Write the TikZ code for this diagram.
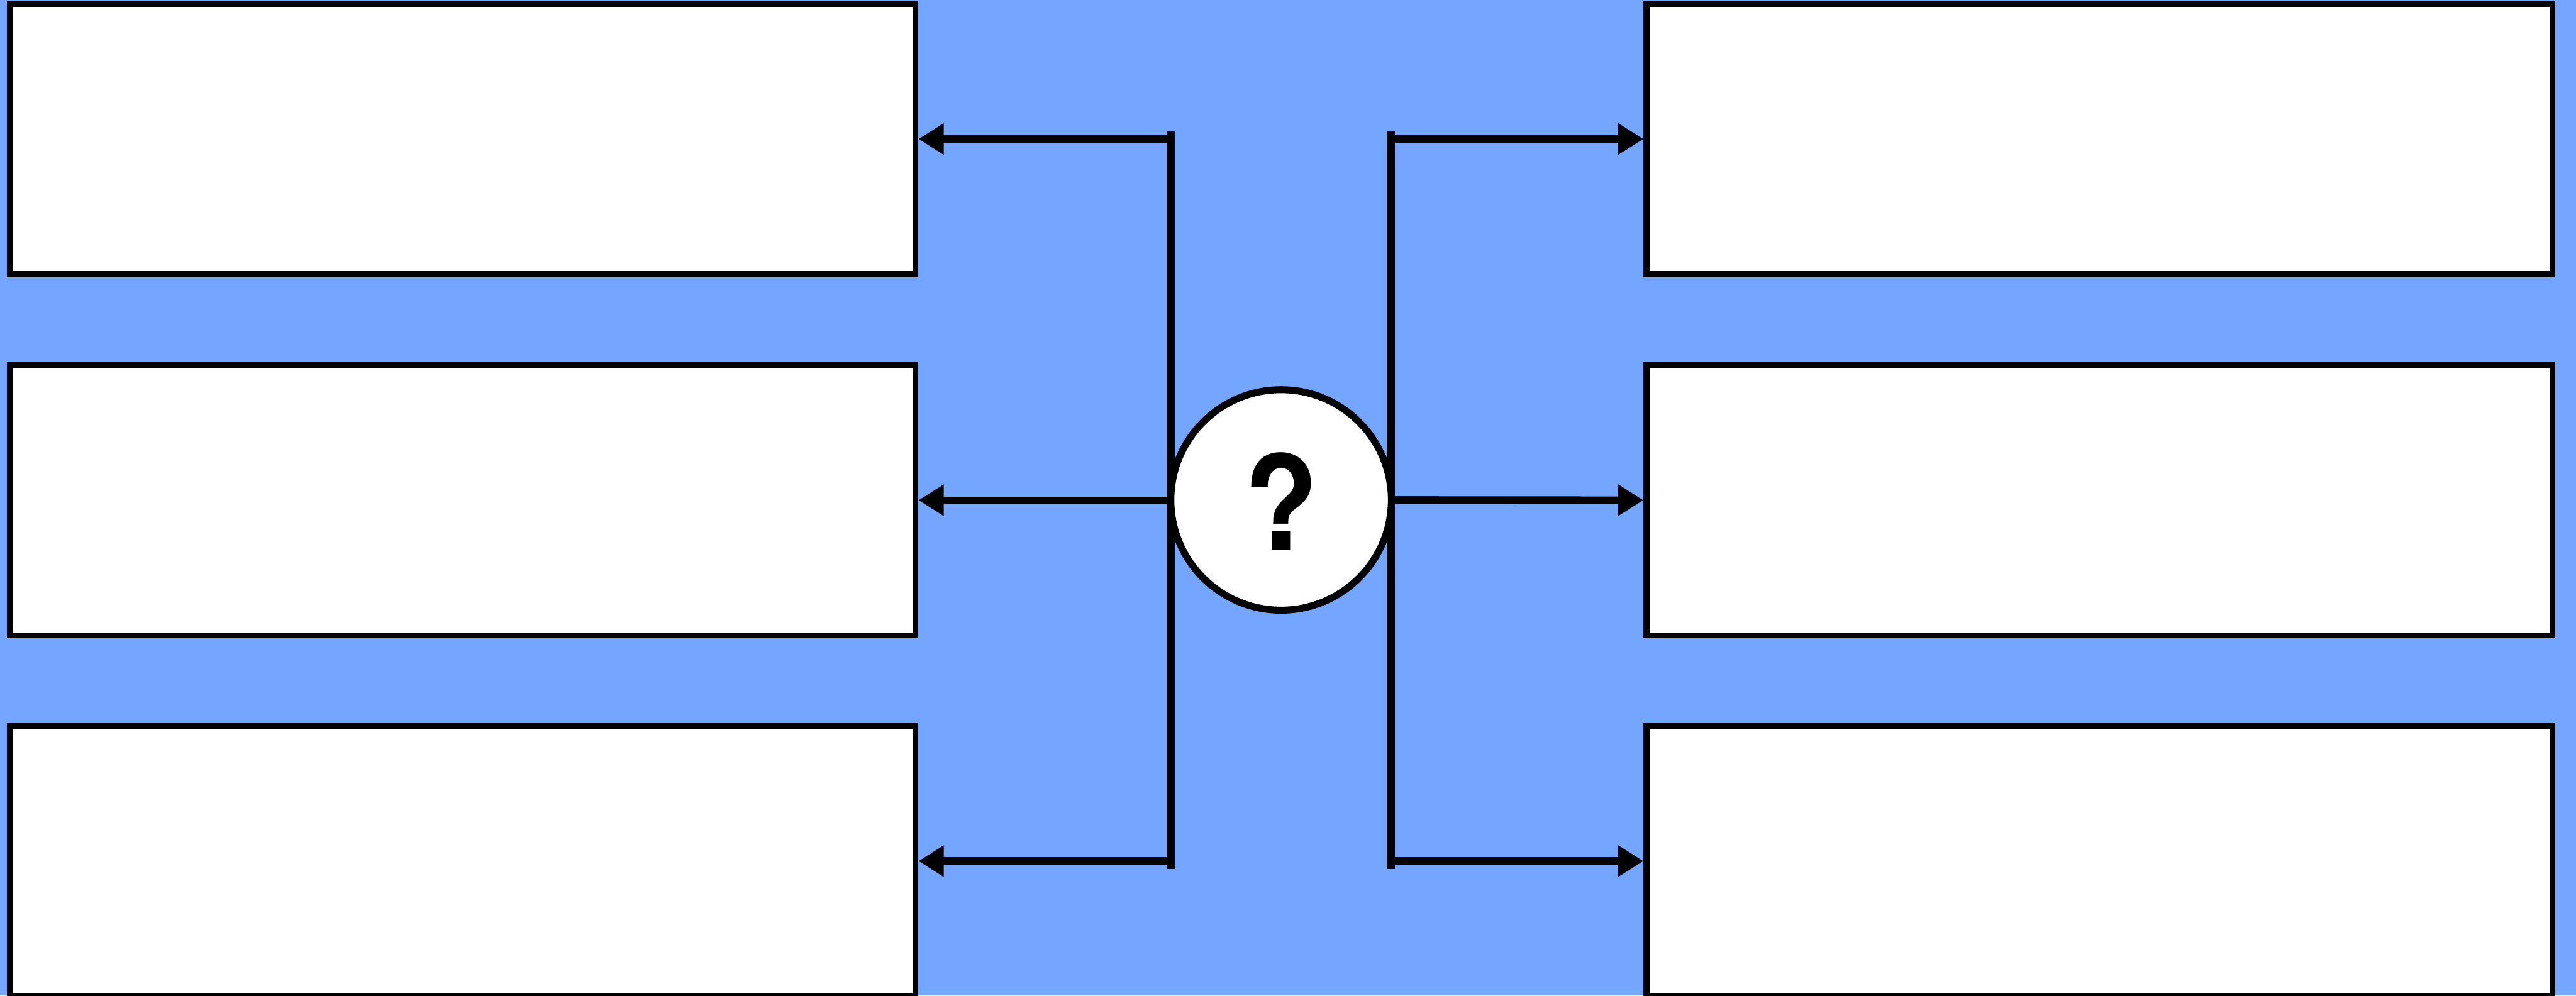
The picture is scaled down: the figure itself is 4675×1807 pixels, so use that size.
\documentclass[tikz,border=0pt]{standalone}
\usepackage{fontspec}
\setmainfont{TeX Gyre Heros}
\usetikzlibrary{arrows.meta}
\definecolor{bgblue}{RGB}{116,166,255}
\tikzset{
  card/.style={draw=black, fill=white, line width=3.05pt, rectangle, inner sep=0pt,
    minimum width=16.43cm, minimum height=4.905cm},
  spine/.style={draw=black, line width=3.8pt, line cap=butt},
  arr/.style={draw=black, line width=3.85pt, -{Triangle[length=0.46cm, width=0.54cm]}},
  hub/.style={circle, draw=black, fill=white, line width=3.6pt, minimum size=4cm, inner sep=0pt},
  qmark/.style={font=\bfseries\fontsize{68}{68}\selectfont, inner sep=0pt}
}
\begin{document}
\begin{tikzpicture}[x=0.01cm, y=-0.01cm]
  \useasboundingbox (0,0) rectangle (4675,1807);
  \fill[bgblue] (0,0) rectangle (4675,1807);
  \begin{scope}
    \clip (0,0) rectangle (4675,1807);
    % left boxes
    \node[card] (L1) at (839.5,252.3) {};
    \node[card] (L2) at (839.5,908) {};
    \node[card] (L3) at (839.5,1563) {};
    % right boxes
    \node[card] (R1) at (3810,252.3) {};
    \node[card] (R2) at (3810,908) {};
    \node[card] (R3) at (3810,1563) {};
  \end{scope}
  % spines
  \coordinate (lt) at (2125.5,239);
  \coordinate (lb) at (2125.5,1577);
  \coordinate (rt) at (2525,239);
  \coordinate (rb) at (2525,1577);
  \draw[spine] (lt) -- (lb);
  \draw[spine] (rt) -- (rb);
  % hub
  \node[hub] (Q) at (2325,907.5) {};
  % arrows
  \draw[arr] (lt |- L1.east) -- (L1.east);
  \draw[arr] (lt |- L2.east) -- (L2.east);
  \draw[arr] (lt |- L3.east) -- (L3.east);
  \draw[arr] (rt |- R1.west) -- (R1.west);
  \draw[arr] (Q.east) -- (R2.west);
  \draw[arr] (rt |- R3.west) -- (R3.west);
  \node[qmark] (qm) at (2325,910.5) {\scalebox{0.92}[1]{?}};
\end{tikzpicture}
\end{document}
